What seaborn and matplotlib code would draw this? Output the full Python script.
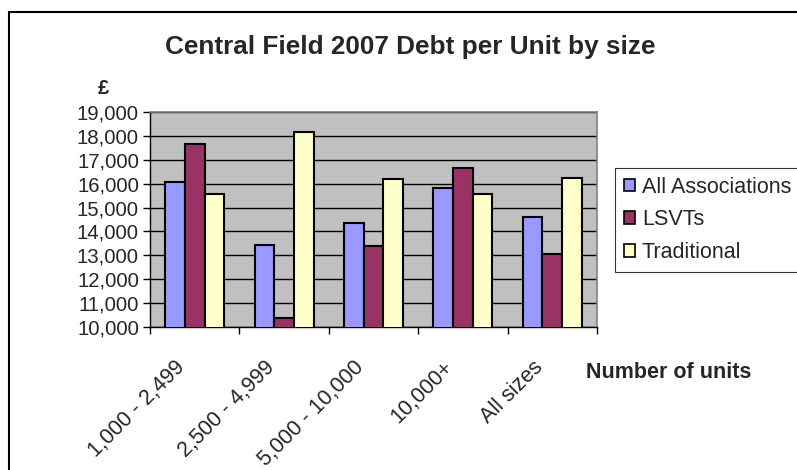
import numpy as np
import pandas as pd
import matplotlib
matplotlib.use("Agg")
import matplotlib.pyplot as plt
import matplotlib.patches as mpatches
import matplotlib.transforms as mtransforms
import seaborn as sns

categories = ["1,000 - 2,499", "2,500 - 4,999", "5,000 - 10,000", "10,000+", "All sizes"]
all_assoc = [16050, 13430, 14340, 15830, 14620]
lsvts = [17640, 10390, 13380, 16670, 13070]
traditional = [15560, 18170, 16190, 15570, 16250]
series_names = ["All Associations", "LSVTs", "Traditional"]
colors = ["#9999FF", "#993366", "#FFFFCC"]
y_ticks = list(range(10000, 19001, 1000))

df = pd.DataFrame({
    "size": categories * 3,
    "series": sum([[s] * len(categories) for s in series_names], []),
    "value": all_assoc + lsvts + traditional,
})

sns.set_style("white")
plt.rcParams["font.family"] = ["Liberation Sans", "DejaVu Sans"]

fig = plt.figure(figsize=(7.97, 4.70), dpi=100)
ax = fig.add_axes([150 / 797, 1 - 327 / 470, 447 / 797, 215 / 470])
ax.set_facecolor("#C0C0C0")

sns.barplot(data=df, x="size", y="value", hue="series", order=categories,
            hue_order=series_names, palette=colors, width=0.66, gap=0,
            edgecolor="black", linewidth=1.5, saturation=1, ax=ax, zorder=3)

ax.set_ylim(10000, 19000)
ax.set_xlim(-0.5, 4.5)
ax.set_yticks(y_ticks)
ax.set_yticklabels([f"{v:,}" for v in y_ticks], fontsize=14.7)
ax.yaxis.grid(True, color="black", linewidth=1.0, zorder=0)
ax.set_axisbelow(True)
ax.set_xlabel("")
ax.set_ylabel("")

ax.set_xticks(range(len(categories)))
ax.set_xticklabels(categories, rotation=45, ha="right", rotation_mode="anchor", fontsize=15.5)
ax.tick_params(axis="x", which="major", length=0, pad=14)
offset = mtransforms.ScaledTranslation(-20 / 100, -10 / 100, fig.dpi_scale_trans)
for lbl in ax.get_xticklabels():
    lbl.set_transform(lbl.get_transform() + offset)
ax.set_xticks(np.arange(-0.5, 5.0, 1.0), minor=True)
ax.tick_params(axis="x", which="minor", length=5, width=1, color="black", direction="out", bottom=True)
ax.tick_params(axis="y", length=5, width=1, color="black", direction="out", left=True, pad=3)

for side in ["top", "right"]:
    ax.spines[side].set_color("#808080")
    ax.spines[side].set_linewidth(1.2)
ax.spines["left"].set_color("black")
ax.spines["bottom"].set_color("black")
ax.spines["left"].set_linewidth(1.0)
ax.spines["bottom"].set_linewidth(1.0)

handles = [mpatches.Patch(facecolor=c, edgecolor="black", linewidth=1.2) for c in colors]
leg = fig.legend(handles, series_names, loc="upper left",
                 bbox_to_anchor=(615 / 797, 1 - 168 / 470), fontsize=15.5,
                 frameon=True, fancybox=False, edgecolor="black",
                 handlelength=0.55, handleheight=0.55, handletextpad=0.3,
                 labelspacing=0.55, borderpad=0.4, borderaxespad=0)
leg.get_frame().set_linewidth(0.8)
if ax.get_legend() is not None:
    ax.get_legend().remove()

fig.text(410 / 797, 1 - 47 / 470, "Central Field 2007 Debt per Unit by size",
         ha="center", va="center", fontsize=18.8, fontweight="bold")
fig.text(103 / 797, 1 - 88 / 470, "£", ha="center", va="center",
         fontsize=14.5, fontweight="bold")
fig.text(669 / 797, 1 - 372 / 470, "Number of units", ha="center", va="center",
         fontsize=15.5, fontweight="bold")

border = mpatches.Rectangle((9 / 797, -0.05), 1.0, 1 - 12 / 470 + 0.05,
                            transform=fig.transFigure, fill=False,
                            edgecolor="black", linewidth=1.5)
fig.patches.append(border)

fig.savefig("out.png", dpi=100)
